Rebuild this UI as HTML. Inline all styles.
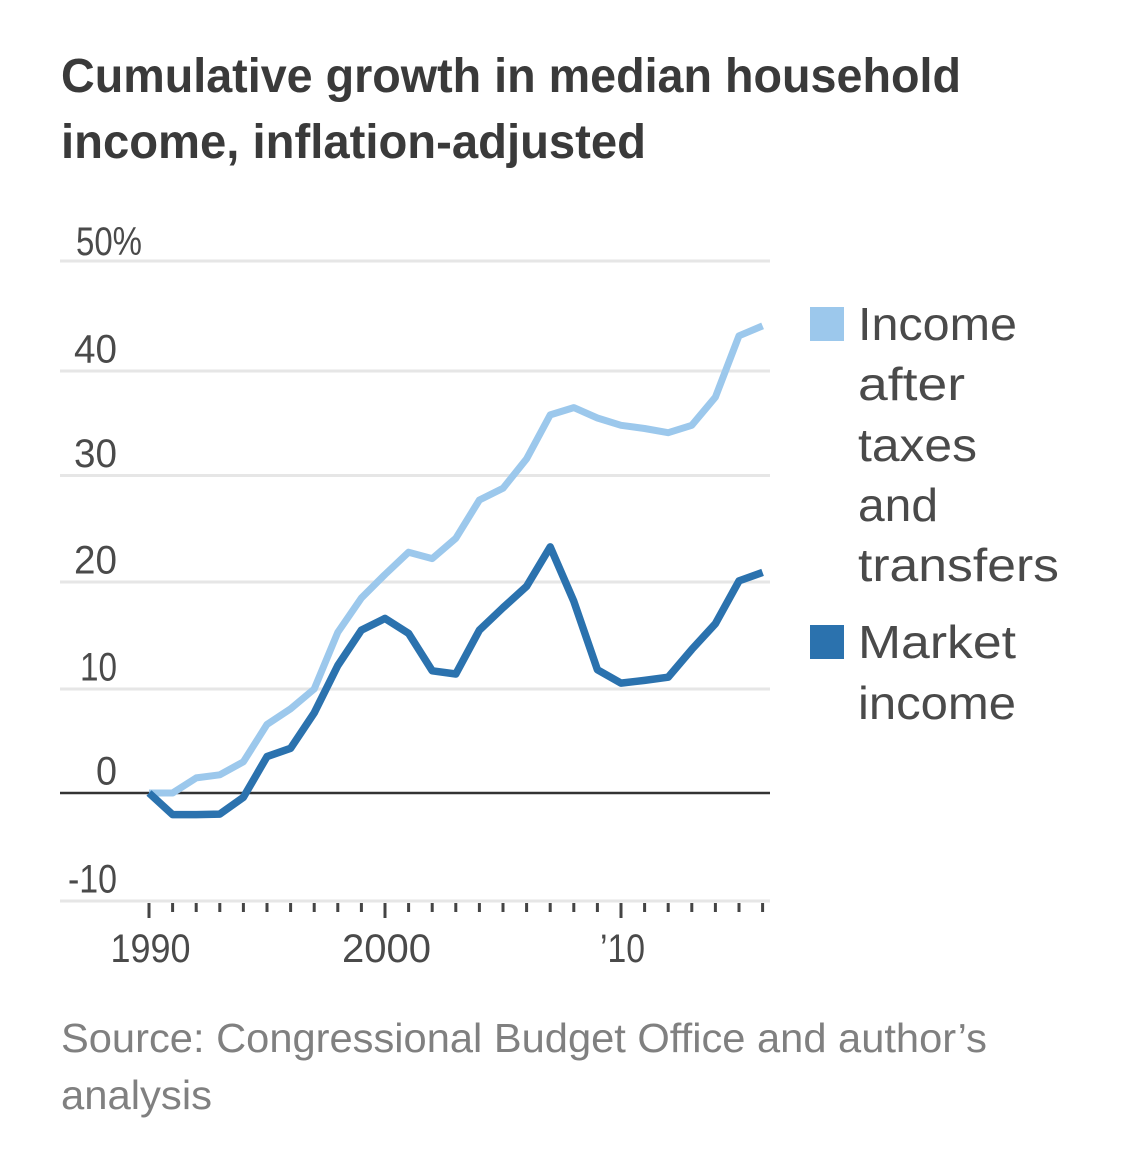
<!DOCTYPE html>
<html lang="en">
<head>
<meta charset="utf-8">
<title>Cumulative growth in median household income</title>
<style>
html,body{margin:0;padding:0;background:#fff;}
svg{display:block;font-family:"Liberation Sans",sans-serif;}
.title{font-size:48px;font-weight:bold;fill:#3a3a3a;}
.tick{font-size:40px;fill:#4a4a4a;}
.legend{font-size:46px;fill:#4a4a4a;}
.source{font-size:41px;fill:#808080;}
</style>
</head>
<body>
<svg id="chart" xmlns="http://www.w3.org/2000/svg" width="1125" height="1157" viewBox="0 0 1125 1157">
  <rect width="1125" height="1157" fill="#ffffff"/>
  <text class="title" x="61" y="92" textLength="900" lengthAdjust="spacingAndGlyphs">Cumulative growth in median household</text>
  <text class="title" x="61" y="158" textLength="585" lengthAdjust="spacingAndGlyphs">income, inflation-adjusted</text>
  <g id="grid"></g>
  <g id="yLabels"></g>
  <g id="ticks"></g>
  <g id="xLabels"></g>
  <g id="lines"></g>

  <g>
    <rect x="810" y="307" width="34" height="34" fill="#9cc8ec"/>
    <text class="legend" x="858" y="340" textLength="159" lengthAdjust="spacingAndGlyphs">Income</text>
    <text class="legend" x="858" y="400" textLength="107" lengthAdjust="spacingAndGlyphs">after</text>
    <text class="legend" x="858" y="461" textLength="119" lengthAdjust="spacingAndGlyphs">taxes</text>
    <text class="legend" x="858" y="521" textLength="80" lengthAdjust="spacingAndGlyphs">and</text>
    <text class="legend" x="858" y="581" textLength="201" lengthAdjust="spacingAndGlyphs">transfers</text>
  </g>
  <g>
    <rect x="810" y="625" width="34" height="34" fill="#2b72ae"/>
    <text class="legend" x="858" y="658" textLength="158" lengthAdjust="spacingAndGlyphs">Market</text>
    <text class="legend" x="858" y="719" textLength="158" lengthAdjust="spacingAndGlyphs">income</text>
  </g>

  <text class="source" x="61" y="1052" textLength="926" lengthAdjust="spacingAndGlyphs">Source: Congressional Budget Office and author’s</text>
  <text class="source" x="61" y="1109" textLength="151" lengthAdjust="spacingAndGlyphs">analysis</text>
</svg>
<script>
const years = [1990,1991,1992,1993,1994,1995,1996,1997,1998,1999,2000,2001,2002,2003,2004,2005,2006,2007,2008,2009,2010,2011,2012,2013,2014,2015,2016];
const afterTaxes = [0,0,1.45,1.75,3.0,6.6,8.1,10.0,15.3,18.5,20.7,22.8,22.2,24.1,27.7,28.8,31.6,35.8,36.5,35.5,34.8,34.5,34.1,34.8,37.5,43.2,44.1];
const marketIncome = [0,-2.0,-2.0,-1.95,-0.4,3.5,4.3,7.7,12.2,15.5,16.6,15.2,11.7,11.4,15.5,17.6,19.6,23.3,18.2,11.8,10.55,10.8,11.1,13.7,16.1,20.1,20.9];
const yTicks = [50,40,30,20,10,0,-10];
const yTickLabels = ['50%','40','30','20','10','0','-10'];
const xLabelYears = [1990,2000,2010];
const xLabelText = ['1990','2000','’10'];

const NS = 'http://www.w3.org/2000/svg';

// The reference gridlines are very slightly unevenly spaced, so y is a piecewise-linear scale.
function yScale(v) {
  const dom = [-10,0,10,20,30,40,50];
  const rng = [901,793,689,582,475.5,371,261];
  let i = 0;
  while (i < dom.length - 2 && v > dom[i + 1]) i++;
  return rng[i] + (v - dom[i]) * (rng[i + 1] - rng[i]) / (dom[i + 1] - dom[i]);
}
function xScale(year) {
  return 149 + (year - 1990) * 23.6;
}
// Rendered width of a tick label, matching the narrower numerals of the reference.
function labelWidth(text) {
  if (text === '50%') return 66;
  if (text === '-10') return 49;
  if (text === '10') return 37;
  if (text === '0') return 21;
  if (text === '’10') return 45;
  if (text === '1990') return 80;
  if (text === '2000') return 89;
  return 43;
}

const gridG = document.getElementById('grid');
const yLabelG = document.getElementById('yLabels');
yTicks.forEach(function (t, i) {
  const line = document.createElementNS(NS, 'line');
  
  
  line.setAttribute('x1', 60);
  line.setAttribute('x2', 770);
  line.setAttribute('y1', yScale(t));
  line.setAttribute('y2', yScale(t));
  line.setAttribute('stroke', t === 0 ? '#333333' : '#e6e6e6');
  line.setAttribute('stroke-width', t === 0 ? 2.5 : 3);
  gridG.appendChild(line);

  const label = document.createElementNS(NS, 'text');
  
  
  label.setAttribute('class', 'tick');
  label.textContent = yTickLabels[i];
  const w = labelWidth(yTickLabels[i]);
  label.setAttribute('y', yScale(t) - (t === 50 ? 6 : 8.5));
  label.setAttribute('x', t === 50 ? 76 : 117 - w);
  label.setAttribute('textLength', w);
  label.setAttribute('lengthAdjust', 'spacingAndGlyphs');
  yLabelG.appendChild(label);
});

const tickG = document.getElementById('ticks');
years.forEach(function (y) {
  const major = (y % 10 === 0);
  const tick = document.createElementNS(NS, 'line');
  
  
  tick.setAttribute('x1', xScale(y));
  tick.setAttribute('x2', xScale(y));
  tick.setAttribute('y1', 903);
  tick.setAttribute('y2', major ? 918 : 912);
  tick.setAttribute('stroke', '#444444');
  tick.setAttribute('stroke-width', 3);
  tickG.appendChild(tick);
});

const xLabelG = document.getElementById('xLabels');
xLabelYears.forEach(function (y, i) {
  const label = document.createElementNS(NS, 'text');
  const w = labelWidth(xLabelText[i]);
  
  
  label.setAttribute('class', 'tick');
  label.setAttribute('x', xScale(y) + 1.5 - w / 2);
  label.setAttribute('y', 962);
  label.setAttribute('textLength', w);
  label.setAttribute('lengthAdjust', 'spacingAndGlyphs');
  label.textContent = xLabelText[i];
  xLabelG.appendChild(label);
});

function pathFor(values) {
  return values.map(function (v, i) {
    return (i ? 'L' : 'M') + xScale(years[i]).toFixed(1) + ' ' + yScale(v).toFixed(1);
  }).join(' ');
}

const lineG = document.getElementById('lines');
const lightPath = document.createElementNS(NS, 'path');


lightPath.setAttribute('d', pathFor(afterTaxes));
lightPath.setAttribute('fill', 'none');
lightPath.setAttribute('stroke', '#9cc8ec');
lightPath.setAttribute('stroke-width', 7);
lightPath.setAttribute('stroke-linejoin', 'round');
lineG.appendChild(lightPath);

const darkPath = document.createElementNS(NS, 'path');


darkPath.setAttribute('d', pathFor(marketIncome));
darkPath.setAttribute('fill', 'none');
darkPath.setAttribute('stroke', '#2b72ae');
darkPath.setAttribute('stroke-width', 7.5);
darkPath.setAttribute('stroke-linejoin', 'round');
lineG.appendChild(darkPath);
</script>
</body>
</html>
